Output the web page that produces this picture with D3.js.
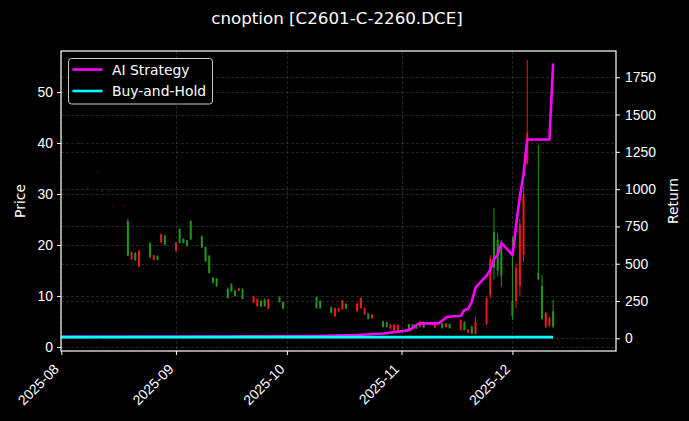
<!DOCTYPE html>
<html><head><meta charset="utf-8">
<script src="https://cdn.jsdelivr.net/npm/d3@7"></script>
<style>
html,body{margin:0;padding:0;background:#000;}
svg{display:block;font-family:"DejaVu Sans",sans-serif;}
</style></head>
<body><svg id="c" width="689" height="421"></svg>
<script>
// ---- data ----
const candleDates = ["2025-08-06","2025-08-08","2025-08-11","2025-08-12","2025-08-14","2025-08-15","2025-08-18",
"2025-08-19","2025-08-20","2025-08-21","2025-08-22","2025-08-25","2025-08-26","2025-08-27","2025-08-28","2025-08-29",
"2025-09-01","2025-09-02","2025-09-03","2025-09-04","2025-09-05","2025-09-08","2025-09-09","2025-09-10","2025-09-11","2025-09-12",
"2025-09-15","2025-09-16","2025-09-17","2025-09-18","2025-09-19","2025-09-22","2025-09-23","2025-09-24","2025-09-25","2025-09-26",
"2025-09-29","2025-09-30","2025-10-09","2025-10-10","2025-10-13","2025-10-14","2025-10-15","2025-10-16","2025-10-17",
"2025-10-20","2025-10-21","2025-10-22","2025-10-23","2025-10-24","2025-10-27","2025-10-28","2025-10-29","2025-10-30","2025-10-31",
"2025-11-03","2025-11-04","2025-11-05","2025-11-06","2025-11-07","2025-11-10","2025-11-12","2025-11-13","2025-11-14",
"2025-11-17","2025-11-18","2025-11-19","2025-11-20","2025-11-21","2025-11-24","2025-11-25","2025-11-26","2025-11-27","2025-11-28",
"2025-12-01","2025-12-02","2025-12-03","2025-12-04","2025-12-05","2025-12-08","2025-12-09","2025-12-10","2025-12-11","2025-12-12"];
const openP  = [40,31.1,34.2,30.6,30.6,27.6,27.6, 17.9,18.6,17.0,18.9,17.6,18.0,17.1,22.1,20.1, 20.4,20.4,20.4,19.8,21.1,19.5,16.8,14.5,12.6,11.9, 9.6,10.9,10.0,11.5,9.4,9.9,9.4,7.9,8.0,9.4, 8.8,7.5,7.6,7.6,6.7,7.6,7.6,9.1,7.5, 8.5,9.6,7.6,5.5,6.3,3.9,3.9,4.4,4.4,4.3, 3.5,3.5,3.6,5.0,3.8,4.8,3.7,4.6,3.7, 5.3,3.3,3.4,2.6,5.0,9.5,17.2,15.5,15.0,14.0, 6.0,15.5,24.0,30.0,42.0,13.3,5.6,6.7,5.8,4.0];
const closeP = [40,31.1,34.2,30.6,30.6,27.6,27.6, 24.6,17.2,18.4,15.8,20.3,17.1,17.8,20.6,21.8, 18.9,23.1,21.2,20.9,24.7,21.7,19.6,17.9,13.6,13.4, 11.4,12.3,11.1,11.0,11.3,8.7,8.0,9.0,9.3,7.5, 9.8,8.8,9.8,9.0,7.8,6.0,7.0,7.4,8.4, 7.0,7.6,6.4,6.5,5.6,5.0,4.8,3.6,3.1,3.2, 4.4,4.4,4.3,3.9,4.9,3.8,4.6,3.9,4.5, 3.3,4.9,2.8,4.0,2.6,4.6,10.2,22.5,21.0,20.0, 9.0,9.0,12.0,18.0,36.0,14.5,12.0,4.0,4.2,7.0];
const highP  = [40,31.1,34.2,30.6,30.6,27.6,27.6, 25.1,18.7,18.6,19.0,20.6,18.0,18.0,22.2,22.0, 20.6,23.3,21.3,21.0,24.8,21.8,19.7,18.0,13.7,13.5, 11.7,12.5,11.2,11.6,11.5,10.0,9.5,9.2,9.5,9.5, 9.9,8.9,9.9,9.2,7.9,7.7,7.7,9.2,8.6, 8.6,9.7,7.7,6.6,6.4,5.1,5.0,4.5,4.5,4.4, 4.5,4.5,4.4,5.1,5.1,4.9,4.7,4.7,4.6, 5.4,5.0,3.5,4.2,6.0,9.9,18.0,27.2,22.3,21.0, 21.6,16.4,25.2,31.4,56.3,39.6,14.1,6.9,5.9,9.2];
const lowP   = [40,31.1,34.2,30.6,30.6,27.6,27.6, 17.8,17.0,16.9,15.6,17.4,17.0,17.0,20.3,19.9, 18.7,20.3,20.3,19.7,21.0,19.4,16.7,14.4,12.5,11.8, 9.5,10.8,9.9,10.9,9.3,8.6,7.9,7.9,7.9,7.4, 8.7,7.4,7.5,7.5,6.6,5.9,6.9,7.3,7.5, 6.9,7.5,6.3,5.4,5.5,3.8,3.8,3.5,3.0,3.1, 3.4,3.4,3.5,3.8,3.7,3.7,3.6,3.8,3.6, 3.2,3.2,2.7,2.5,2.4,4.3,9.5,13.2,13.8,11.8, 5.3,7.6,9.9,16.7,35.7,13.1,5.3,3.7,3.9,3.7];

const strategyDates = ["2025-08-01","2025-09-15","2025-10-09","2025-10-20","2025-10-27","2025-10-31","2025-11-03","2025-11-04",
"2025-11-05","2025-11-06","2025-11-07","2025-11-10","2025-11-11","2025-11-12","2025-11-13","2025-11-14","2025-11-17","2025-11-18",
"2025-11-19","2025-11-20","2025-11-21","2025-11-24","2025-11-25","2025-11-26","2025-11-27","2025-11-28","2025-12-01","2025-12-02",
"2025-12-03","2025-12-04","2025-12-05","2025-12-08","2025-12-09","2025-12-10","2025-12-11","2025-12-12"];
const strategyValues = [10,12,15,22,32,44,55,68, 90,100,100,100,100,118,140,146,150,190, 198,245,340,420,460,530,560,640,558,760, 950,1100,1333,1333,1333,1333,1333,1842];
const bhDates = ["2025-08-01","2025-12-12"];
const bhValues = [8,8];

const priceTicks = [0,10,20,30,40,50];
const returnTicks = [0,250,500,750,1000,1250,1500,1750];
const monthTicks = ["2025-08-01","2025-09-01","2025-10-01","2025-11-01","2025-12-01"];

// ---- layout ----
const L = 61, R = 616, T = 51, B = 351;
const parse = d3.utcParse("%Y-%m-%d");
const svg = d3.select("#c");
svg.append("rect").attr("width",689).attr("height",421).attr("fill","#000");

const x = d3.scaleUtc().domain([Date.UTC(2025,7,1,-2), Date.UTC(2025,11,29)]).range([L, R]);
const yP = d3.scaleLinear().domain([-0.8, 58.05]).range([B, T]);
const yR = d3.scaleLinear().domain([-85, 1926]).range([B, T]);

const GREEN = "#1f951f", RED = "#e81a1a";

// grid
const grid = svg.append("g").attr("stroke","#9a9a9a").attr("stroke-opacity",0.35)
  .attr("stroke-width",0.7).attr("stroke-dasharray","3,2").attr("fill","none");
monthTicks.forEach(m => { const xx = Math.round(x(parse(m)))+0.5;
  grid.append("line").attr("x1",xx).attr("x2",xx).attr("y1",T).attr("y2",B); });
priceTicks.forEach(v => { const yy = Math.round(yP(v))+0.5;
  grid.append("line").attr("x1",L).attr("x2",R).attr("y1",yy).attr("y2",yy); });
returnTicks.forEach(v => { const yy = Math.round(yR(v))+0.5;
  grid.append("line").attr("x1",L).attr("x2",R).attr("y1",yy).attr("y2",yy); });

// candles
const dayPx = x(Date.UTC(2025,7,2)) - x(Date.UTC(2025,7,1));
const bw = dayPx*0.55;
const cg = svg.append("g");
candleDates.forEach((d,i) => {
  const cx = x(parse(d));
  const o = openP[i], c = closeP[i], h = highP[i], l = lowP[i];
  if (h === l) {
    cg.append("rect").attr("x",cx-bw/2).attr("y",yP(h)-0.6).attr("width",bw).attr("height",1.2).attr("fill","#4a1010");
    return;
  }
  const col = c >= o ? GREEN : RED;
  cg.append("line").attr("x1",cx).attr("x2",cx).attr("y1",yP(h)).attr("y2",yP(l)).attr("stroke",col).attr("stroke-width",1);
  const top = yP(Math.max(o,c)), bot = yP(Math.min(o,c));
  cg.append("rect").attr("x",cx-bw/2).attr("y",top).attr("width",bw).attr("height",Math.max(0.8,bot-top)).attr("fill",col);
});

// lines
const sLine = d3.line().x(d=>x(d[0])).y(d=>yR(d[1]));
svg.append("path").datum(strategyDates.map((d,i)=>[parse(d),strategyValues[i]]))
  .attr("d",sLine).attr("fill","none").attr("stroke","#ff00ff").attr("stroke-width",2.6).attr("stroke-linejoin","round");
svg.append("path").datum(bhDates.map((d,i)=>[parse(d),bhValues[i]]))
  .attr("d",sLine).attr("fill","none").attr("stroke","#00ffff").attr("stroke-width",2.6);

// frame
svg.append("rect").attr("x",L).attr("y",T).attr("width",R-L).attr("height",B-T)
  .attr("fill","none").attr("stroke","#fff").attr("stroke-width",1.2);

// axes
const fs = "13.9px";
const xAx = svg.append("g").attr("transform",`translate(0,${B})`)
  .call(d3.axisBottom(x).tickValues(monthTicks.map(parse)).tickFormat(d3.utcFormat("%Y-%m")).tickSize(4).tickSizeOuter(0));
xAx.select(".domain").remove();
xAx.selectAll("line").attr("stroke","#fff").attr("stroke-width",1);
xAx.selectAll("text").attr("fill","#fff").style("font-size",fs).attr("text-anchor","end")
  .attr("dy",null).attr("y",0).attr("transform","translate(-2,19) rotate(-45)");

const yAxL = svg.append("g").attr("transform",`translate(${L},0)`)
  .call(d3.axisLeft(yP).tickValues(priceTicks).tickSize(4).tickPadding(4).tickSizeOuter(0));
yAxL.select(".domain").remove();
yAxL.selectAll("line").attr("stroke","#fff");
yAxL.selectAll("text").attr("fill","#fff").style("font-size",fs);

const yAxR = svg.append("g").attr("transform",`translate(${R},0)`)
  .call(d3.axisRight(yR).tickValues(returnTicks).tickFormat(d3.format("d")).tickSize(4).tickPadding(5).tickSizeOuter(0));
yAxR.select(".domain").remove();
yAxR.selectAll("line").attr("stroke","#fff");
yAxR.selectAll("text").attr("fill","#fff").style("font-size",fs);

// labels
svg.append("text").attr("transform",`translate(25,${(T+B)/2}) rotate(-90)`).attr("text-anchor","middle")
  .attr("fill","#fff").style("font-size",fs).text("Price");
svg.append("text").attr("transform",`translate(678,${(T+B)/2}) rotate(-90)`).attr("text-anchor","middle")
  .attr("fill","#fff").style("font-size",fs).text("Return");
svg.append("text").attr("x",337).attr("y",24).attr("text-anchor","middle")
  .attr("fill","#fff").style("font-size","16.7px").text("cnoption [C2601-C-2260.DCE]");

// legend
const lg = svg.append("g");
lg.append("rect").attr("x",68.5).attr("y",58.5).attr("width",144).attr("height",45.5).attr("rx",3)
  .attr("fill","#000").attr("fill-opacity",0.8).attr("stroke","#cccccc").attr("stroke-width",1);
const items = [["AI Strategy","#ff00ff",69.5],["Buy-and-Hold","#00ffff",91]];
items.forEach(([t,c,yy]) => {
  lg.append("line").attr("x1",72.5).attr("x2",102.5).attr("y1",yy).attr("y2",yy).attr("stroke",c).attr("stroke-width",2.6);
  lg.append("text").attr("x",112).attr("y",yy+5).attr("fill","#fff").style("font-size",fs).text(t);
});
</script></body></html>
